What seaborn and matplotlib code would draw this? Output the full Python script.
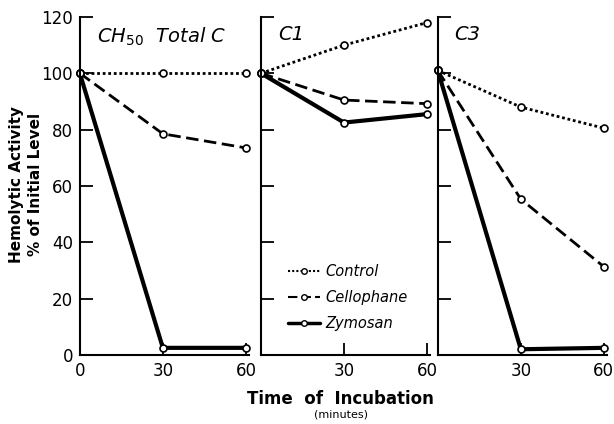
import matplotlib
matplotlib.use('Agg')
import matplotlib.pyplot as plt
import seaborn as sns
import pandas as pd
from matplotlib.lines import Line2D

# Data
times = [0, 30, 60]
panels = ['CH50 Total C', 'C1', 'C3']
control = {'CH50 Total C': [100, 100, 100],
           'C1': [100, 110, 118],
           'C3': [101, 88, 80.5]}
cellophane = {'CH50 Total C': [100, 78.5, 73.5],
              'C1': [100, 90.5, 89.2],
              'C3': [101, 55.3, 31.3]}
zymosan = {'CH50 Total C': [100, 2.5, 2.5],
           'C1': [100, 82.5, 85.5],
           'C3': [101, 2.0, 2.5]}
titles = ['CH$_{50}$  Total C', 'C1', 'C3']
y_ticks = [0, 20, 40, 60, 80, 100, 120]

sns.set_style('white')
plt.rcParams['font.family'] = ['DejaVu Sans']
plt.rcParams['text.color'] = 'black'
plt.rcParams['xtick.color'] = 'black'
plt.rcParams['ytick.color'] = 'black'

fig = plt.figure(figsize=(6.14, 4.24), dpi=100)
lefts = [0.130, 0.425, 0.713]
axes = [fig.add_axes([l, 0.163, 0.275, 0.797]) for l in lefts]

styles = {
    'Control': dict(dashes=(1, 1), lw=2.0),
    'Cellophane': dict(dashes=(4.5, 2), lw=2.0),
    'Zymosan': dict(dashes=None, lw=3.0),
}
series = {'Control': control, 'Cellophane': cellophane, 'Zymosan': zymosan}

for i, (ax, p) in enumerate(zip(axes, panels)):
    for name, data in series.items():
        st = styles[name]
        line_kw = dict(color='black', lw=st['lw'], marker='o', markersize=5,
                       markerfacecolor='white', markeredgecolor='black',
                       markeredgewidth=1.2, clip_on=False)
        df = pd.DataFrame({'t': times, 'v': data[p]})
        sns.lineplot(data=df, x='t', y='v', ax=ax, **line_kw)
        ln = ax.lines[-1]
        if st['dashes'] is not None:
            ln.set_dashes(st['dashes'])
    ax.set_xlim(0, 61)
    ax.set_ylim(0, 120)
    ax.set_yticks(y_ticks)
    ax.set_xlabel('')
    ax.set_ylabel('')
    for s in ['top', 'right']:
        ax.spines[s].set_visible(False)
    for s in ['left', 'bottom']:
        ax.spines[s].set_linewidth(1.5)
        ax.spines[s].set_color('black')
    ax.tick_params(direction='in', length=9, width=1.3, labelsize=12,
                   left=True, bottom=True, pad=5, colors='black')
    if i == 0:
        ax.set_xticks([0, 30, 60])
    else:
        ax.set_xticks([30, 60])
        ax.set_yticklabels([])
    ax.text(0.10, 0.975, titles[i], transform=ax.transAxes, fontsize=14,
            style='italic', va='top', ha='left')

handles = []
for n in series:
    h = Line2D([], [], color='black', marker='o', markersize=4,
               markerfacecolor='white', markeredgecolor='black',
               lw=styles[n]['lw'] - 0.5)
    if styles[n]['dashes'] is not None:
        h.set_dashes(styles[n]['dashes'])
    handles.append(h)
leg = axes[1].legend(handles, list(series.keys()), loc='center left',
                     bbox_to_anchor=(0.08, 0.17), frameon=False, fontsize=10.5,
                     handlelength=2.2, labelspacing=0.75, handletextpad=0.4)
for t in leg.get_texts():
    t.set_style('italic')

fig.text(0.042, 0.565, 'Hemolytic Activity\n% of Initial Level', rotation=90,
         ha='center', va='center', fontsize=11, fontweight='bold', linespacing=1.35)
fig.text(0.555, 0.06, 'Time  of  Incubation', ha='center', va='center',
         fontsize=12, fontweight='bold')
fig.text(0.555, 0.022, '(minutes)', ha='center', va='center', fontsize=8)

fig.savefig('out.png', dpi=100)
